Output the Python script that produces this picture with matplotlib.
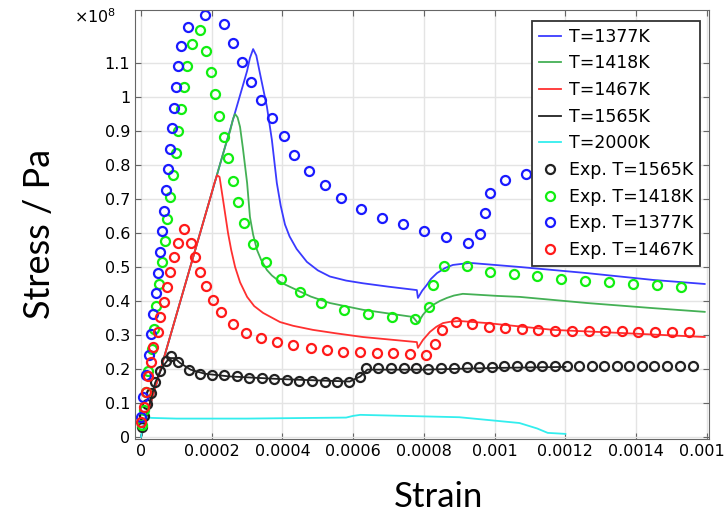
import matplotlib
matplotlib.use("Agg")
import matplotlib.pyplot as plt
import matplotlib.ticker as tck
import numpy as np

# strain in units of 1e-4, stress in units of 1e8 Pa

# model curves
sim_1377_x = [0, 2.90, 3.00, 3.08, 3.17, 3.26, 3.36, 3.56, 3.70, 3.84, 3.95, 4.07, 4.20, 4.40, 4.69, 5.00, 5.34,
              5.80, 6.28, 7.00, 7.80, 7.83, 7.95, 8.08, 8.20, 8.37, 8.60, 8.82, 9.30, 10.71, 12.61, 14.47, 15.94]
sim_1377_y = [0, 1.041, 1.077, 1.115, 1.141, 1.122, 1.071, 0.971, 0.874, 0.747, 0.680, 0.625, 0.590, 0.553, 0.515,
              0.490, 0.472, 0.460, 0.452, 0.442, 0.432, 0.409, 0.430, 0.447, 0.465, 0.482, 0.497, 0.506, 0.512,
              0.500, 0.482, 0.462, 0.450]

sim_1418_x = [0, 2.40, 2.52, 2.60, 2.66, 2.73, 2.80, 2.88, 3.00, 3.08, 3.17, 3.28, 3.40, 3.56, 3.70, 3.93, 4.10,
              4.41, 4.80, 5.34, 6.28, 7.69, 7.83, 7.97, 8.10, 8.25, 8.45, 8.65, 8.85, 9.10, 10.06, 10.71, 12.61,
              14.47, 15.94]
sim_1418_y = [0, 0.862, 0.900, 0.935, 0.950, 0.940, 0.912, 0.850, 0.747, 0.647, 0.595, 0.550, 0.520, 0.491, 0.475,
              0.456, 0.447, 0.432, 0.413, 0.394, 0.374, 0.353, 0.335, 0.359, 0.375, 0.388, 0.400, 0.409, 0.416,
              0.421, 0.415, 0.412, 0.394, 0.379, 0.368]

sim_1467_x = [0, 1.95, 2.07, 2.15, 2.22, 2.32, 2.46, 2.55, 2.66, 2.80, 3.00, 3.20, 3.45, 3.93, 4.30, 4.86, 5.50,
              6.27, 7.80, 7.83, 7.97, 8.17, 8.35, 8.54, 8.75, 9.02, 9.78, 11.65, 13.54, 15.94]
sim_1467_y = [0, 0.700, 0.745, 0.770, 0.765, 0.697, 0.600, 0.550, 0.500, 0.455, 0.412, 0.385, 0.365, 0.338, 0.327,
              0.315, 0.305, 0.294, 0.279, 0.262, 0.285, 0.309, 0.324, 0.335, 0.339, 0.341, 0.335, 0.315, 0.306,
              0.294]

sim_1565_x = [0, 0.2, 0.4, 0.6, 0.8, 0.95, 1.1, 1.4, 1.8, 2.5, 4.0, 5.9, 6.2, 6.4, 8.0, 10.0, 12.0]
sim_1565_y = [0, 0.08, 0.16, 0.205, 0.232, 0.232, 0.218, 0.198, 0.186, 0.178, 0.170, 0.163, 0.178, 0.198, 0.198, 0.203, 0.206]

sim_2000_x = [0, 0.05, 0.12, 0.3, 1.0, 3.0, 5.8, 6.0, 6.2, 7.0, 9.0, 9.8, 10.7, 11.2, 11.5, 12.0]
sim_2000_y = [0, 0.030, 0.058, 0.056, 0.054, 0.054, 0.057, 0.062, 0.065, 0.063, 0.058, 0.050, 0.041, 0.025, 0.012, 0.009]

# experiments
exp_1565_x = [0.03, 0.09, 0.17, 0.28, 0.40, 0.54, 0.71, 0.85, 1.05, 1.36,
              1.67, 2.01, 2.35, 2.71, 3.05, 3.42, 3.76, 4.13, 4.47, 4.83,
              5.20, 5.54, 5.88, 6.19, 6.36, 6.70, 7.07, 7.44, 7.77, 8.11,
              8.48, 8.85, 9.22, 9.56, 9.92, 10.26, 10.63, 11.00, 11.34, 11.70,
              12.04, 12.38, 12.75, 13.09, 13.46, 13.80, 14.16, 14.50, 14.87, 15.24, 15.60]
exp_1565_y = [0.029, 0.062, 0.097, 0.129, 0.162, 0.194, 0.224, 0.238, 0.221, 0.197,
              0.185, 0.182, 0.182, 0.179, 0.174, 0.174, 0.171, 0.168, 0.165, 0.165,
              0.162, 0.162, 0.162, 0.176, 0.203, 0.203, 0.203, 0.203, 0.203, 0.200,
              0.203, 0.203, 0.206, 0.206, 0.206, 0.209, 0.209, 0.209, 0.209, 0.209,
              0.209, 0.209, 0.209, 0.209, 0.209, 0.209, 0.209, 0.209, 0.209, 0.209, 0.209]

exp_1418_x = [0.03, 0.09, 0.14, 0.20, 0.31, 0.37, 0.42, 0.51, 0.59, 0.68,
              0.74, 0.82, 0.91, 0.99, 1.05, 1.13, 1.22, 1.30, 1.44, 1.67,
              1.84, 1.98, 2.09, 2.21, 2.35, 2.46, 2.60, 2.74, 2.91, 3.17,
              3.53, 3.96, 4.50, 5.09, 5.74, 6.42, 7.10, 7.75, 8.14, 8.25,
              8.57, 9.22, 9.87, 10.54, 11.19, 11.87, 12.55, 13.23, 13.91, 14.59, 15.27]
exp_1418_y = [0.035, 0.079, 0.132, 0.194, 0.259, 0.318, 0.385, 0.450, 0.515, 0.576,
              0.641, 0.706, 0.771, 0.835, 0.900, 0.965, 1.029, 1.091, 1.156, 1.197,
              1.135, 1.074, 1.009, 0.944, 0.882, 0.821, 0.753, 0.691, 0.629, 0.568,
              0.515, 0.465, 0.426, 0.394, 0.374, 0.362, 0.353, 0.347, 0.382, 0.447,
              0.503, 0.503, 0.485, 0.479, 0.474, 0.465, 0.459, 0.456, 0.450, 0.447, 0.441]

exp_1377_x = [0.00, 0.06, 0.14, 0.23, 0.28, 0.34, 0.42, 0.48, 0.54, 0.59,
              0.65, 0.71, 0.76, 0.82, 0.88, 0.93, 0.99, 1.05, 1.13, 1.33,
              1.81, 2.35, 2.60, 2.86, 3.11, 3.39, 3.70, 4.04, 4.33, 4.75,
              5.20, 5.65, 6.22, 6.81, 7.41, 8.00, 8.62, 9.24, 9.58, 9.72,
              9.87, 10.29, 10.88]
exp_1377_y = [0.059, 0.118, 0.182, 0.241, 0.303, 0.362, 0.424, 0.482, 0.544, 0.606,
              0.665, 0.726, 0.788, 0.847, 0.909, 0.968, 1.029, 1.091, 1.150, 1.206,
              1.241, 1.215, 1.159, 1.103, 1.044, 0.991, 0.938, 0.885, 0.829, 0.782,
              0.741, 0.703, 0.671, 0.644, 0.626, 0.606, 0.588, 0.571, 0.597, 0.659,
              0.718, 0.756, 0.774]

exp_1467_x = [0.00, 0.09, 0.14, 0.20, 0.28, 0.34, 0.48, 0.54, 0.65, 0.74,
              0.82, 0.93, 1.05, 1.22, 1.41, 1.53, 1.67, 1.84, 2.04, 2.26,
              2.60, 2.97, 3.39, 3.85, 4.30, 4.81, 5.26, 5.71, 6.19, 6.67,
              7.12, 7.60, 8.06, 8.31, 8.51, 8.91, 9.36, 9.84, 10.29, 10.77,
              11.22, 11.70, 12.18, 12.66, 13.12, 13.60, 14.05, 14.53, 15.01, 15.49]
exp_1467_y = [0.044, 0.088, 0.132, 0.179, 0.221, 0.265, 0.309, 0.353, 0.397, 0.441,
              0.485, 0.529, 0.571, 0.612, 0.571, 0.529, 0.485, 0.444, 0.403, 0.368,
              0.332, 0.306, 0.291, 0.279, 0.271, 0.262, 0.256, 0.250, 0.250, 0.247,
              0.247, 0.244, 0.241, 0.274, 0.315, 0.338, 0.332, 0.324, 0.321, 0.318,
              0.315, 0.312, 0.312, 0.312, 0.312, 0.312, 0.309, 0.309, 0.309, 0.309]

sims = [
    (sim_1377_x, sim_1377_y, '#3a3aff', 'T=1377K'),
    (sim_1418_x, sim_1418_y, '#44b055', 'T=1418K'),
    (sim_1467_x, sim_1467_y, '#ff3030', 'T=1467K'),
    (sim_1565_x, sim_1565_y, '#222222', 'T=1565K'),
    (sim_2000_x, sim_2000_y, '#33eeee', 'T=2000K'),
]
exps = [
    (exp_1565_x, exp_1565_y, '#222222', 'Exp. T=1565K'),
    (exp_1418_x, exp_1418_y, '#11ee11', 'Exp. T=1418K'),
    (exp_1377_x, exp_1377_y, '#1a1aff', 'Exp. T=1377K'),
    (exp_1467_x, exp_1467_y, '#ff1a1a', 'Exp. T=1467K'),
]

fig = plt.figure(figsize=(7.24, 5.15), dpi=100)
ax = fig.add_axes([0.1865, 0.1476, 0.7925, 0.833])

for x, y, c, lab in sims:
    ax.plot(np.array(x) * 1e-4, y, color=c, lw=1.3, label=lab)
for x, y, c, lab in exps:
    ax.plot(np.array(x) * 1e-4, y, 'o', mfc='none', mec=c, ms=6.5, mew=1.6, label=lab)

ax.set_xlim(-0.000017, 0.0016056)
ax.set_ylim(-0.006, 1.256)
ax.set_xticks(np.arange(0, 0.00161, 0.0002))
ax.set_yticks(np.arange(0, 1.11, 0.1))
ax.xaxis.set_major_formatter(tck.FuncFormatter(lambda v, p: '%g' % round(v, 6)))
ax.yaxis.set_major_formatter(tck.FuncFormatter(lambda v, p: '%g' % round(v, 3)))
ax.tick_params(direction='in', top=True, right=True, labelsize=11.5, length=4, color='#666666')
ax.grid(True, color='#e4e4e4', lw=1)
for s in ax.spines.values():
    s.set_color('#666666')

ax.text(-0.07, 0.984, r'$\times 10^8$', transform=ax.transAxes, ha='center', va='center', fontsize=11.5)

fig.text(0.055, 0.545, 'Stress / Pa', rotation=90, ha='center', va='center', fontsize=26, family='Lato')
fig.text(0.605, 0.035, 'Strain', ha='center', va='center', fontsize=25, family='Lato')

leg = ax.legend(loc='upper right', bbox_to_anchor=(0.985, 0.975), borderaxespad=0, fontsize=12.5,
                fancybox=False, framealpha=1, edgecolor='#333333', labelspacing=0.5,
                handlelength=1.3, handletextpad=0.45, borderpad=0.4)
leg.get_frame().set_linewidth(1.3)

fig.savefig('out.png', dpi=100)
